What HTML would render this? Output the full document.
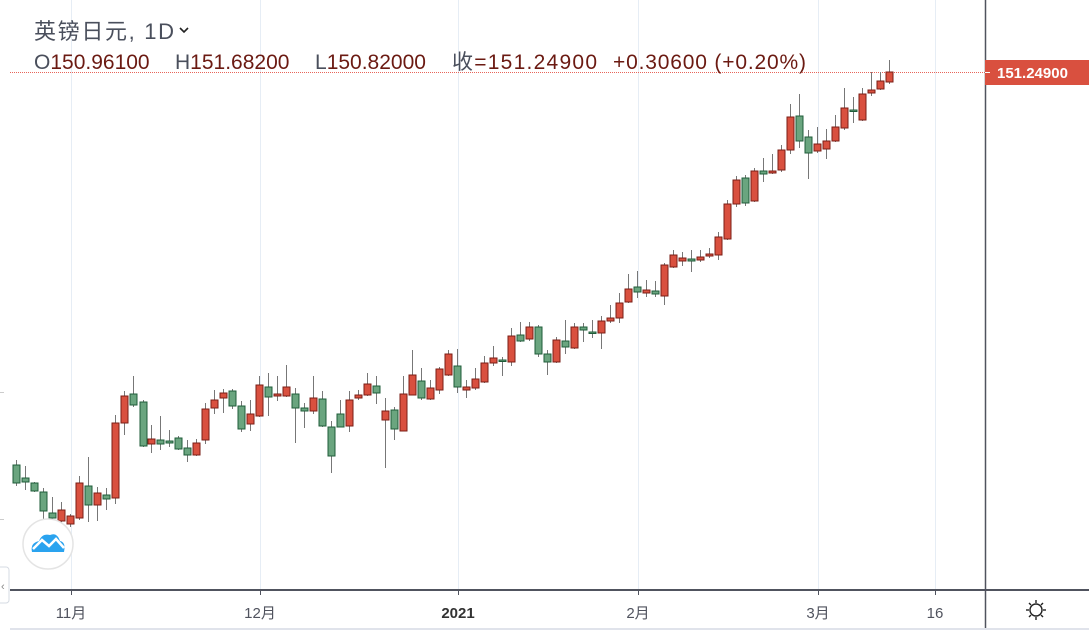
<!DOCTYPE html>
<html><head><meta charset="utf-8"><style>
html,body{margin:0;padding:0;background:#fff;}
body{width:1089px;height:637px;overflow:hidden;position:relative;font-family:"Liberation Sans","Noto Sans CJK SC",sans-serif;}
svg{position:absolute;left:0;top:0;}
</style></head><body>
<svg id="s" width="1089" height="637" xmlns="http://www.w3.org/2000/svg">
<g stroke="#e6edf5" stroke-width="1">
<line x1="71.5" y1="0" x2="71.5" y2="590"/><line x1="260.5" y1="0" x2="260.5" y2="590"/>
<line x1="458.5" y1="0" x2="458.5" y2="590"/><line x1="638.5" y1="0" x2="638.5" y2="590"/>
<line x1="818.5" y1="0" x2="818.5" y2="590"/><line x1="935.5" y1="0" x2="935.5" y2="590"/>
</g>
<line x1="10" y1="72.5" x2="985" y2="72.5" stroke="#e8655a" stroke-width="1" stroke-dasharray="1,1"/>
<g id="c"></g>
<line x1="10" y1="590" x2="1089" y2="590" stroke="#50535e" stroke-width="2"/>
<line x1="985.5" y1="0" x2="985.5" y2="628" stroke="#50535e" stroke-width="1.5"/>
<line x1="10" y1="629" x2="1089" y2="629" stroke="#e0e3eb" stroke-width="2"/>
<g stroke="#50535e"><line x1="71.5" y1="590" x2="71.5" y2="595"/><line x1="260.5" y1="590" x2="260.5" y2="595"/><line x1="458.5" y1="590" x2="458.5" y2="595"/><line x1="638.5" y1="590" x2="638.5" y2="595"/><line x1="818.5" y1="590" x2="818.5" y2="595"/><line x1="935.5" y1="590" x2="935.5" y2="595"/></g>
<g font-size="15" fill="#50535e" text-anchor="middle" font-family="Liberation Sans,Noto Sans CJK SC,sans-serif">
<text x="71" y="618">11月</text><text x="260" y="618">12月</text>
<text x="458" y="618" font-weight="bold" fill="#333">2021</text><text x="638" y="618">2月</text>
<text x="818" y="618">3月</text><text x="935" y="618">16</text></g>
<g transform="translate(1036,610)" stroke="#222" stroke-width="1.4" fill="none">
<circle r="6"/><line x1="0" y1="-10" x2="0" y2="-7"/><line x1="0" y1="7" x2="0" y2="10"/><line x1="-10" y1="0" x2="-7" y2="0"/><line x1="7" y1="0" x2="10" y2="0"/>
<line x1="-7" y1="-7" x2="-5" y2="-5"/><line x1="5" y1="5" x2="7" y2="7"/><line x1="-7" y1="7" x2="-5" y2="5"/><line x1="5" y1="-5" x2="7" y2="-7"/></g>
<rect x="985" y="60" width="104" height="25" fill="#d9503f"/>
<line x1="985" y1="72.5" x2="990" y2="72.5" stroke="#fff"/>
<text x="997" y="78" font-size="15" font-weight="bold" fill="#fff">151.24900</text>
<circle cx="48" cy="544" r="25" fill="#fff" stroke="#e4e4e4" stroke-width="1.5"/>
<path d="M32 552 Q30 543 39 541 Q42 533 50 535 Q57 532 60 541 Q66 542 64 552 Z" fill="#2aa3ef"/>
<path d="M33 549 L42 540 L49 546 L56 539 L64 548" stroke="#fff" stroke-width="2.5" fill="none"/>
<rect x="-5" y="567" width="14" height="36" rx="3" fill="#fff" stroke="#d6dbe3"/>
<text x="1" y="590" font-size="11" fill="#888">‹</text>
<line x1="0" y1="392.5" x2="4" y2="392.5" stroke="#ccc"/><line x1="0" y1="519.5" x2="4" y2="519.5" stroke="#ccc"/>
<text x="34" y="39" font-size="22" fill="#4a4f5c" textLength="140" font-family="Liberation Sans,Noto Sans CJK SC,sans-serif">英镑日元, 1D</text>
<path d="M180 28 l4 4 l4 -4" stroke="#222" stroke-width="1.6" fill="none"/>
<g font-size="21" fill="#6b1a12" font-family="Liberation Sans,Noto Sans CJK SC,sans-serif">
<text x="34" y="69"><tspan fill="#4a4f5c">O</tspan><tspan>150.96100</tspan></text>
<text x="175" y="69"><tspan fill="#4a4f5c">H</tspan><tspan>151.68200</tspan></text>
<text x="315" y="69"><tspan fill="#4a4f5c">L</tspan><tspan>150.82000</tspan></text>
<text x="452" y="69" textLength="145"><tspan fill="#4a4f5c">收</tspan>=151.24900</text>
<text x="613" y="69" textLength="193">+0.30600 (+0.20%)</text>
</g>
</svg>
<script>
var d=[[16,460,465,483,486,'g'],[25,466,478,482,490,'g'],[34,482,483,491,492,'g'],[43,488,492,511,520,'g'],[52,497,513,518,520,'g'],[61,502,510,521,524,'r'],[70,514,516,524,527,'r'],[79,476,483,518,520,'r'],[88,457,486,505,522,'g'],[97,487,493,505,521,'r'],[106,488,495,499,510,'g'],[115,415,423,498,504,'r'],[124,391,396,423,435,'r'],[133,376,394,405,407,'g'],[143,400,402,446,447,'g'],[151,425,439,444,453,'r'],[160,416,440,444,450,'g'],[169,430,441,443,447,'g'],[178,436,438,449,450,'g'],[187,440,448,455,462,'g'],[196,439,443,455,456,'r'],[205,403,409,440,444,'r'],[214,390,400,408,414,'r'],[223,389,393,398,413,'r'],[232,389,391,406,409,'g'],[241,401,406,429,432,'g'],[250,400,414,424,431,'r'],[259,376,385,416,417,'r'],[268,373,387,397,416,'g'],[277,376,394,396,401,'r'],[286,365,387,396,397,'r'],[295,388,394,408,443,'g'],[304,403,408,411,428,'g'],[313,376,398,411,414,'r'],[322,391,399,426,427,'g'],[331,421,427,456,473,'g'],[340,400,414,427,427,'g'],[349,391,400,426,432,'r'],[358,390,395,398,400,'r'],[367,373,384,395,396,'r'],[376,376,386,393,404,'g'],[385,398,411,420,468,'r'],[394,407,410,429,440,'g'],[403,376,394,431,431,'r'],[412,350,375,395,395,'r'],[421,368,381,398,400,'g'],[430,380,388,399,400,'r'],[439,367,369,390,394,'r'],[448,350,354,375,376,'r'],[457,349,366,387,393,'g'],[466,380,387,390,398,'r'],[475,368,379,388,390,'r'],[484,356,363,382,383,'r'],[493,346,358,363,366,'r'],[502,357,360,361,376,'g'],[511,328,336,362,366,'r'],[520,322,335,341,342,'g'],[529,322,327,339,341,'r'],[538,325,327,354,357,'g'],[547,350,354,362,375,'g'],[556,337,340,362,363,'r'],[565,320,341,347,354,'g'],[574,323,327,348,349,'r'],[583,323,327,330,342,'g'],[592,320,332,333,338,'g'],[601,316,321,333,349,'r'],[610,305,318,321,323,'r'],[619,293,303,318,323,'r'],[628,274,289,302,303,'r'],[637,271,287,292,298,'g'],[646,280,290,293,297,'r'],[655,281,291,294,297,'g'],[664,263,265,296,305,'r'],[673,250,255,267,268,'r'],[682,252,258,261,266,'r'],[691,250,259,261,272,'g'],[700,250,257,260,262,'r'],[709,248,254,256,258,'r'],[718,232,237,255,260,'r'],[727,200,204,239,240,'r'],[736,176,180,204,207,'r'],[745,175,178,203,206,'g'],[754,168,171,201,202,'r'],[763,158,171,174,182,'g'],[772,154,171,173,174,'r'],[781,145,150,170,172,'r'],[790,104,117,150,154,'r'],[799,94,116,141,148,'g'],[808,130,137,153,179,'g'],[817,127,144,151,153,'r'],[826,129,141,149,159,'r'],[835,115,127,141,142,'r'],[844,88,108,128,130,'r'],[853,97,110,111,123,'g'],[862,88,94,120,121,'r'],[871,72,90,93,96,'r'],[880,72,81,89,90,'r'],[889,60,72,82,84,'r']];
var h='';d.forEach(function(c){var x=c[0];h+='<line x1="'+(x+.5)+'" y1="'+c[1]+'" x2="'+(x+.5)+'" y2="'+c[4]+'" stroke="#777" stroke-width="1"/>';
var r=c[5]=='r';var hh=Math.max(c[3]-c[2],1.5);h+='<rect x="'+(x-3)+'" y="'+c[2]+'" width="7" height="'+hh+'" fill="'+(r?'#d9503f':'#6aa57f')+'" stroke="'+(r?'#7a1e16':'#1f5c3a')+'" stroke-width="1"/>';});
document.getElementById('c').innerHTML=h;
</script>
</body></html>
